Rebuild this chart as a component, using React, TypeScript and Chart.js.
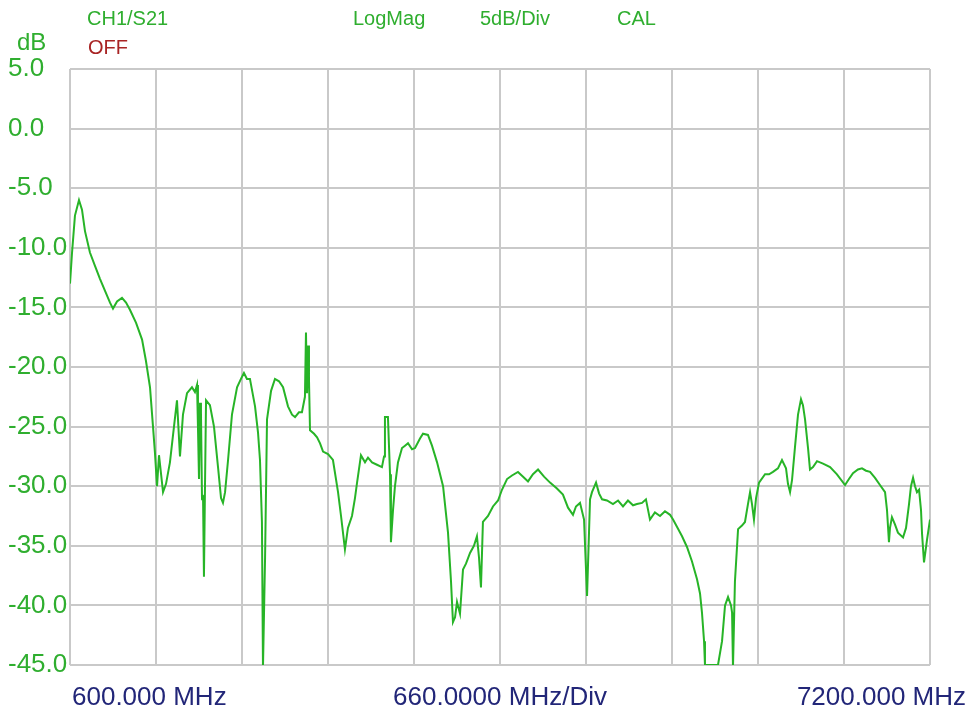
import React, { useEffect, useRef } from "react";
import { Chart, registerables } from "chart.js";

Chart.register(...registerables);

// Frequency (MHz) of each trace point
const freqMHz: number[] = [
  600, 615, 638, 669, 692, 715, 753, 791, 830, 868, 907, 930, 961, 999, 1030, 1060, 1107, 1153, 1183, 1214,
  1237, 1252, 1268, 1283, 1314, 1337, 1367, 1398, 1421, 1444, 1467, 1498, 1536, 1559, 1575, 1582, 1590, 1598,
  1605, 1613, 1621, 1628, 1636, 1644, 1674, 1705, 1736, 1759, 1774, 1790, 1813, 1843, 1882, 1912, 1935, 1958,
  1981, 2020, 2043, 2058, 2073, 2081, 2097, 2112, 2143, 2173, 2204, 2235, 2273, 2304, 2327, 2357, 2380, 2403,
  2411, 2419, 2427, 2434, 2442, 2473, 2496, 2519, 2542, 2580, 2618, 2657, 2680, 2710, 2733, 2764, 2787, 2803,
  2833, 2864, 2887, 2918, 2956, 2994, 3010, 3017, 3040, 3056, 3063, 3079, 3094, 3117, 3148, 3171, 3194, 3225,
  3248, 3286, 3309, 3347, 3378, 3417, 3463, 3501, 3524, 3539, 3555, 3570, 3593, 3616, 3639, 3670, 3700, 3723,
  3739, 3754, 3769, 3808, 3846, 3885, 3915, 3954, 3992, 4038, 4077, 4115, 4153, 4192, 4238, 4284, 4337, 4383,
  4422, 4460, 4483, 4514, 4545, 4568, 4591, 4606, 4637, 4660, 4683, 4721, 4767, 4806, 4844, 4882, 4921, 4951,
  4990, 5020, 5051, 5089, 5128, 5166, 5205, 5228, 5258, 5297, 5335, 5373, 5412, 5435, 5450, 5466, 5473, 5573,
  5604, 5627, 5650, 5673, 5681, 5688, 5703, 5727, 5757, 5780, 5803, 5819, 5834, 5849, 5865, 5888, 5934, 5965,
  5995, 6033, 6064, 6095, 6110, 6126, 6141, 6164, 6187, 6210, 6225, 6241, 6264, 6279, 6302, 6333, 6379, 6433,
  6486, 6548, 6578, 6609, 6647, 6678, 6709, 6740, 6778, 6816, 6855, 6870, 6885, 6893, 6908, 6931, 6954, 6993,
  7016, 7039, 7054, 7070, 7085, 7100, 7116, 7131, 7139, 7154, 7177, 7200,
];

// S21 magnitude (dB) of each trace point
const levelDb: number[] = [
  -13.0, -10.5, -7.3, -6.0, -6.8, -8.6, -10.4, -11.5, -12.6, -13.6, -14.6, -15.1, -14.5, -14.2, -14.6, -15.2, -16.3, -17.7, -19.5, -21.7,
  -25.0, -27.2, -30.0, -27.4, -30.5, -29.8, -28.0, -25.0, -22.8, -27.5, -24.0, -22.2, -21.7, -22.1, -21.5, -25.0, -29.4, -23.0,
  -23.8, -31.0, -30.9, -37.6, -30.0, -22.8, -23.2, -25.0, -28.4, -31.0, -31.4, -30.5, -27.8, -24.0, -21.7, -21.0, -20.5, -21.0,
  -21.0, -23.3, -25.5, -27.8, -33.0, -45.2, -36.0, -24.4, -22.0, -21.0, -21.2, -21.7, -23.3, -24.0, -24.2, -23.8, -23.8, -22.5,
  -17.1, -22.2, -18.2, -21.0, -25.3, -25.6, -25.9, -26.4, -27.1, -27.3, -27.8, -30.5, -32.5, -35.3, -33.5, -32.5, -31.0, -29.7,
  -27.4, -28.0, -27.6, -28.0, -28.2, -28.4, -27.5, -24.2, -24.2, -29.0, -34.7, -32.0, -30.0, -28.0, -26.8, -26.6, -26.4, -26.9,
  -26.8, -26.0, -25.6, -25.7, -26.6, -28.0, -30.0, -33.9, -38.0, -41.4, -41.0, -39.7, -40.7, -37.0, -36.5, -35.6, -35.0, -34.2,
  -36.0, -38.5, -33.0, -32.5, -31.7, -31.2, -30.3, -29.4, -29.1, -28.8, -29.2, -29.6, -29.0, -28.6, -29.2, -29.7, -30.2, -30.7,
  -31.8, -32.4, -31.7, -31.4, -32.8, -39.2, -31.1, -30.5, -29.7, -30.6, -31.1, -31.2, -31.5, -31.2, -31.7, -31.2, -31.6, -31.5,
  -31.4, -31.1, -32.8, -32.2, -32.5, -32.1, -32.4, -32.8, -33.4, -34.2, -35.1, -36.3, -37.8, -39.0, -40.6, -43.0, -45.0, -45.0,
  -43.0, -40.0, -39.3, -40.0, -40.6, -45.2, -38.0, -33.6, -33.3, -33.0, -31.5, -30.5, -31.5, -32.8, -31.0, -29.7, -29.0, -29.0,
  -28.8, -28.5, -27.8, -28.5, -29.8, -30.5, -29.5, -26.7, -24.0, -22.7, -23.2, -24.4, -26.8, -28.6, -28.4, -27.9, -28.1, -28.4,
  -29.0, -29.9, -29.4, -28.9, -28.6, -28.5, -28.7, -28.8, -29.3, -29.9, -30.5, -32.0, -34.7, -33.5, -32.6, -33.2, -33.9, -34.3,
  -33.5, -31.5, -30.0, -29.3, -30.0, -30.5, -30.3, -32.0, -34.0, -36.4, -34.5, -32.8,
];

// Grid divisions
const xTicksMHz: number[] = [600, 1260, 1920, 2580, 3240, 3900, 4560, 5220, 5880, 6540, 7200];
const yTicksDb: number[] = [5, 0, -5, -10, -15, -20, -25, -30, -35, -40, -45];

// Annotation texts
const headerLabels: string[] = ["CH1/S21", "LogMag", "5dB/Div", "CAL"];
const statusLabel = "OFF";
const unitLabel = "dB";
const footerLabels: string[] = ["600.000 MHz", "660.0000 MHz/Div", "7200.000 MHz"];

const GREEN = "#2fae2f";
const TRACE = "#27b427";
const RED = "#a82424";
const NAVY = "#222678";
const GRID = "#c9c9c9";
const FONT = "'Liberation Sans', Arial, sans-serif";

const textPlugin = {
  id: "vnaText",
  afterDraw(chart: any) {
    const ctx = chart.ctx;
    const area = chart.chartArea;
    ctx.save();
    ctx.textBaseline = "alphabetic";
    ctx.font = `20px ${FONT}`;
    ctx.fillStyle = GREEN;
    ctx.textAlign = "left";
    const hx = [87, 353, 480, 617];
    headerLabels.forEach((t, i) => ctx.fillText(t, hx[i], 25));
    ctx.fillStyle = RED;
    ctx.fillText(statusLabel, 88, 54);
    ctx.fillStyle = GREEN;
    ctx.font = `24px ${FONT}`;
    ctx.fillText(unitLabel, 17, 50);
    ctx.font = `26px ${FONT}`;
    ctx.fillStyle = NAVY;
    ctx.textAlign = "left";
    ctx.fillText(footerLabels[0], 72, 705);
    ctx.textAlign = "center";
    ctx.fillText(footerLabels[1], (area.left + area.right) / 2, 705);
    ctx.textAlign = "right";
    ctx.fillText(footerLabels[2], 966, 705);
    ctx.restore();
  },
};

export default function App() {
  const canvasRef = useRef<HTMLCanvasElement | null>(null);

  useEffect(() => {
    document.body.style.margin = "0";
    const canvas = canvasRef.current;
    if (!canvas) return;
    const points = freqMHz.map((f, i) => ({ x: f, y: levelDb[i] }));
    const chart = new Chart(canvas, {
      type: "line",
      data: {
        datasets: [
          {
            data: points,
            borderColor: TRACE,
            borderWidth: 2,
            pointRadius: 0,
            tension: 0,
            fill: false,
          },
        ],
      },
      options: {
        animation: false,
        responsive: false,
        devicePixelRatio: 1,
        layout: { padding: { left: 8, top: 69, right: 39, bottom: 0 } },
        plugins: {
          legend: { display: false },
          tooltip: { enabled: false },
          title: { display: false },
        },
        scales: {
          x: {
            type: "linear",
            min: 600,
            max: 7200,
            afterBuildTicks: (scale: any) => {
              scale.ticks = xTicksMHz.map((v) => ({ value: v }));
            },
            afterFit: (scale: any) => {
              scale.height = 44;
            },
            ticks: { display: false },
            grid: { color: GRID, lineWidth: 2, drawTicks: false },
            border: { display: false },
          },
          y: {
            type: "linear",
            min: -45,
            max: 5,
            afterBuildTicks: (scale: any) => {
              scale.ticks = yTicksDb.map((v) => ({ value: v }));
            },
            afterFit: (scale: any) => {
              scale.width = 62;
            },
            ticks: {
              crossAlign: "far",
              color: GREEN,
              font: { family: FONT, size: 26 },
              callback: (v: any) => Number(v).toFixed(1),
            },
            grid: { color: GRID, lineWidth: 2, drawTicks: false },
            border: { display: false },
          },
        },
      },
      plugins: [textPlugin],
    });
    return () => chart.destroy();
  }, []);

  return (
    <div style={{ width: 969, height: 709, background: "#ffffff" }}>
      <canvas ref={canvasRef} width={969} height={709} />
    </div>
  );
}
